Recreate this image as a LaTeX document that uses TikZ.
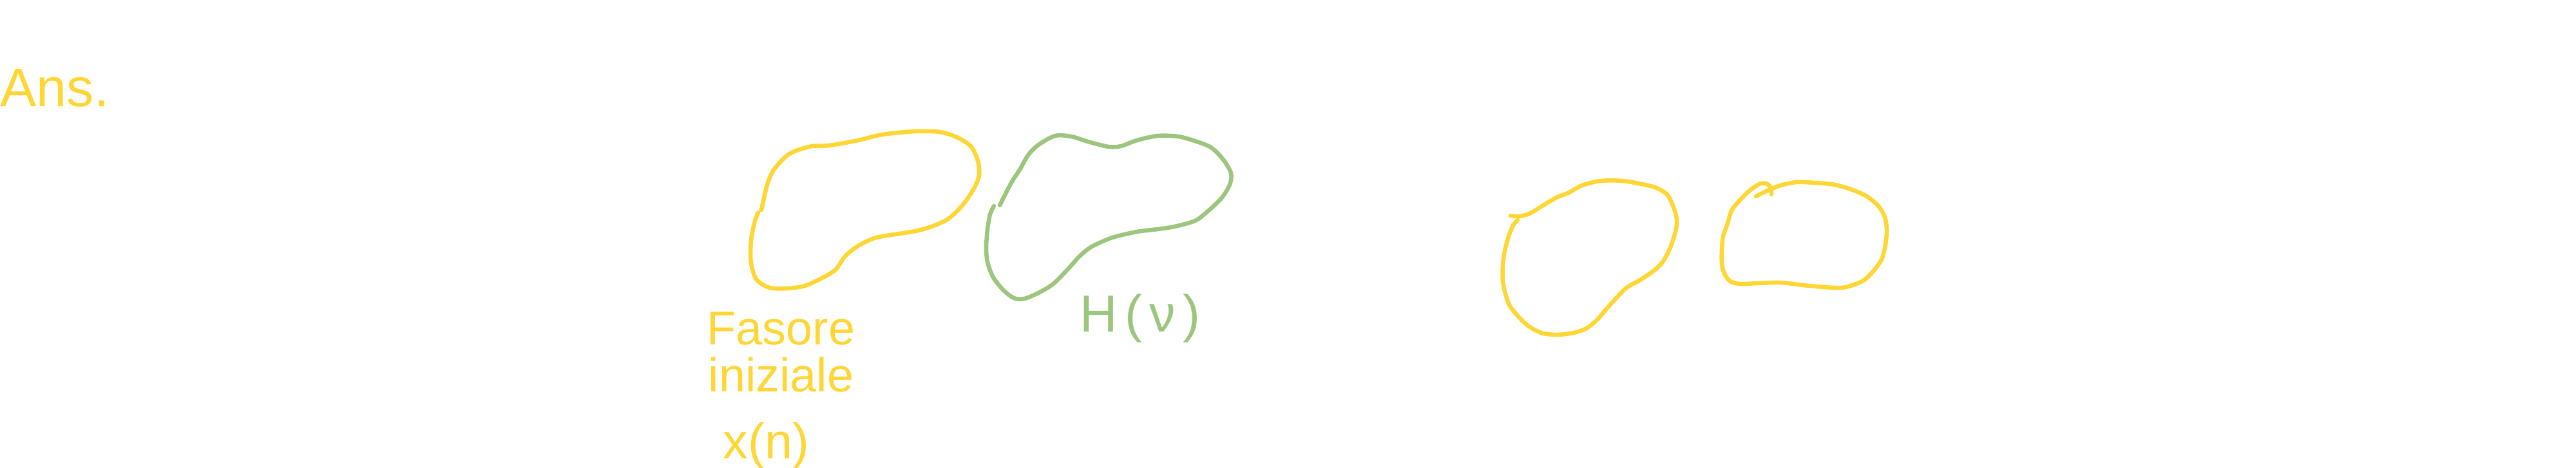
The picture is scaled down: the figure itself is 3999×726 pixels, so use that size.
\documentclass[tikz,border=0pt]{standalone}
\usepackage{fontspec}
\setmainfont{Liberation Sans}
\usepackage{tikz}
\usetikzlibrary{positioning}
\definecolor{penyellow}{RGB}{255,214,51}
\definecolor{pengreen}{RGB}{156,198,125}

\begin{document}
\begin{tikzpicture}[x=0.1mm, y=-0.1mm,
  blob/.style={line width=0.65mm, line cap=round, line join=round},
  hand/.style={inner sep=0pt, anchor=base west, font=\fontsize{21}{25}\selectfont}]
  \useasboundingbox (0,0) rectangle (3999,726);

  % Titolo
  \node[hand, text=penyellow, font=\fontsize{24}{28}\selectfont] (ans) at (0,165) {Ans.};

  % Fasore iniziale
  \draw[blob, penyellow] plot[smooth] coordinates {
    (1182,326) (1191,287) (1201,264) (1220,243) (1236,234) (1261,227) (1287,226)
    (1332,218) (1370,209) (1421,204) (1459,205) (1485,213) (1507,227) (1518,250)
    (1520,273) (1510,296) (1494,319) (1472,340) (1446,352) (1421,359) (1383,365)
    (1357,370) (1332,382) (1312,398) (1297,419) (1274,433) (1249,444) (1223,448)
    (1195,447) (1175,435) (1167,414) (1165,394) (1167,366) (1172,343) (1177,330)};
  \node[hand, text=penyellow] (fasore) at (1097,535) {Fasore};
  \node[hand, text=penyellow] (iniziale) at (1099,608) {iniziale};
  \node[hand, text=penyellow, font=\fontsize{22}{26}\selectfont] (xn) at (1122,712) {x(n)};

  % Filtro
  \draw[blob, pengreen] plot[smooth] coordinates {
    (1552,319) (1561,301) (1571,282) (1584,262) (1596,241) (1612,225) (1638,211)
    (1663,212) (1689,220) (1721,228) (1740,227) (1765,218) (1797,211) (1829,212)
    (1855,219) (1880,229) (1899,248) (1911,269) (1909,287) (1896,308) (1874,329)
    (1855,343) (1823,352) (1797,356) (1765,360) (1727,369) (1695,383) (1676,398)
    (1657,419) (1635,441) (1612,455) (1590,464) (1574,463) (1558,451) (1542,431)
    (1533,407) (1531,384) (1533,356) (1537,333) (1543,320)};
  \node[hand, text=pengreen, font=\fontsize{23}{27}\selectfont\addfontfeatures{LetterSpace=14}] (hv) at (1676,515) {H(ν)};

  % Uscita
  \draw[blob, penyellow] plot[smooth] coordinates {
    (2345,335) (2358,336) (2374,332) (2394,320) (2418,306) (2434,300) (2456,288)
    (2485,281) (2519,281) (2554,287) (2572,292) (2588,302) (2596,317) (2603,340)
    (2601,360) (2592,387) (2581,407) (2568,420) (2546,435) (2525,447) (2510,462)
    (2492,482) (2479,497) (2463,510) (2443,517) (2418,520) (2396,518) (2378,510)
    (2363,498) (2345,477) (2338,460) (2333,437) (2333,413) (2336,390) (2342,367)
    (2349,350) (2356,342)};
  \draw[blob, penyellow] plot[smooth] coordinates {
    (2726,305) (2742,297) (2764,288) (2789,283) (2818,284) (2849,287) (2876,295)
    (2898,305) (2916,320) (2926,337) (2929,357) (2927,380) (2921,403) (2909,420)
    (2894,435) (2876,443) (2858,447) (2831,446) (2800,443) (2764,439) (2729,440)
    (2702,441) (2686,437) (2677,425) (2673,410) (2673,387) (2675,367) (2682,347)
    (2688,327) (2700,312) (2715,297) (2731,286) (2742,285) (2749,292) (2750,302)};
\end{tikzpicture}
\end{document}
